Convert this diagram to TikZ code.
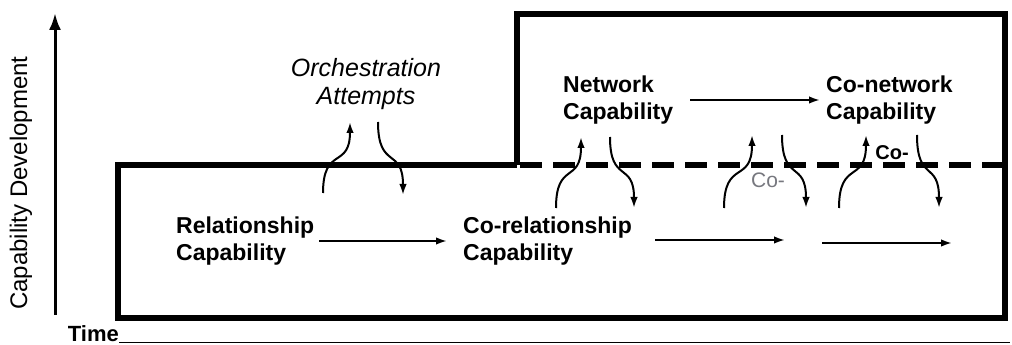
\documentclass[tikz,border=0pt]{standalone}
\usepackage{fontspec}
\setmainfont{Liberation Sans}
\usetikzlibrary{arrows.meta}

\begin{document}
\begin{tikzpicture}[x=1pt, y=1pt,
    capname/.style={font=\fontsize{23}{27}\selectfont\bfseries, align=left, anchor=west, inner sep=0pt},
    flow/.style={line width=2pt, -{Latex[length=11pt,width=7.5pt]}},
    hop/.style={out=90, in=-90, looseness=1.6},
    drop/.style={out=-90, in=90, looseness=1.6}]
    \definecolor{borderColour}{HTML}{000000}
    \definecolor{coColour}{HTML}{77787F}

    \useasboundingbox (0,0) rectangle (1012,345);

    % Draw axis
    \coordinate (yBot) at (55,30);
    \coordinate (yTop) at (55,332);
    \draw[line width=3pt, -{Latex[length=17pt,width=12pt]}] (yBot) -- (yTop);
    \node[rotate=90, font=\fontsize{24}{28}\selectfont] (ylab) at (21,162) {Capability Development};
    \node[anchor=base east, inner sep=0pt, font=\fontsize{22}{26}\selectfont\bfseries] (time) at (119,3) {Time};
    \coordinate (tEnd) at (1010,3);
    \draw[line width=0.8pt] (time.base east) -- (tEnd);

    % Draw levels
    \draw[borderColour, line width=5.5pt, line join=miter] (517,180) -- (118,180) -- (118,27) -- (1005,27) -- (1005,331) -- (517,331) -- (517,180);
    \draw[borderColour, line width=5.5pt, dash pattern=on 22pt off 11pt] (520,180) -- (1005,180);

    % Capabilities
    \node[capname] (rel) at (176,104) {Relationship\\Capability};
    \node[capname] (corel) at (463,104) {Co-relationship\\Capability};
    \node[capname] (net) at (563,245) {Network\\Capability};
    \node[capname] (conet) at (826,245) {Co-network\\Capability};
    \node[align=center, inner sep=0pt, font=\fontsize{25}{28}\selectfont\itshape] (orch) at (366,261) {Orchestration\\Attempts};
    \node[inner sep=0pt, text=coColour, font=\fontsize{21}{25}\selectfont] (coA) at (768,165) {Co-};
    \node[inner sep=0pt, font=\fontsize{20}{24}\selectfont\bfseries] (coB) at (892,192) {Co-};

    % Development arrows
    \draw[flow] ([xshift=5pt]rel.east) -- ([xshift=-16pt]corel.west);
    \draw[flow] ([xshift=17pt]net.east) -- ([xshift=-6pt]conet.west);
    \coordinate (h1s) at (655,105);
    \coordinate (h1e) at (785,105);
    \coordinate (h2s) at (822,102);
    \coordinate (h2e) at (952,102);
    \draw[flow] (h1s) -- (h1e);
    \draw[flow] (h2s) -- (h2e);

    % Orchestration attempts
    \coordinate (u1s) at (323,152);
    \coordinate (u1e) at (350,223);
    \coordinate (d1s) at (378,223);
    \coordinate (d1e) at (403,150);
    \coordinate (u2s) at (556,137);
    \coordinate (u2e) at (581,208);
    \coordinate (d2s) at (610,208);
    \coordinate (d2e) at (634,137);
    \coordinate (u3s) at (724,137);
    \coordinate (u3e) at (752,210);
    \coordinate (d3s) at (782,210);
    \coordinate (d3e) at (806,137);
    \coordinate (u4s) at (839,137);
    \coordinate (u4e) at (866,210);
    \coordinate (d4s) at (917,210);
    \coordinate (d4e) at (939,137);
    \foreach \i in {1,...,4} {
        \draw[flow] (u\i s) to[hop] (u\i e);
        \draw[flow] (d\i s) to[drop] (d\i e);
    }

\end{tikzpicture}
\end{document}
